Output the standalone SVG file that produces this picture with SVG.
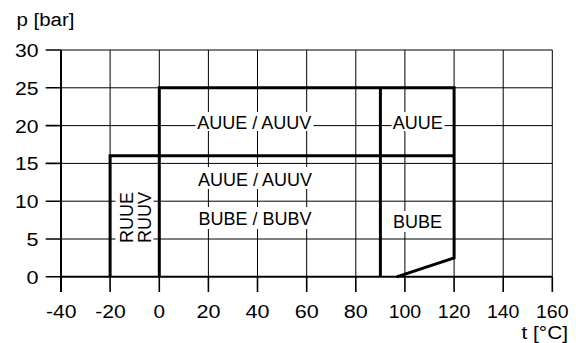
<svg xmlns="http://www.w3.org/2000/svg" width="576" height="343" viewBox="0 0 576 343">
<style>
text{font-family:"Liberation Sans",Arial,sans-serif;font-size:18px;fill:#000}
.g{stroke:#000;stroke-width:1;fill:none}
.ax{stroke:#000;stroke-width:2;fill:none}
.tk{stroke:#000;stroke-width:1.6;fill:none}
.th{stroke:#000;stroke-width:3;fill:none;stroke-linejoin:miter}
.bg{fill:#fff;stroke:none}
.ym{text-anchor:end}
.xm{text-anchor:middle}
</style>
<rect width="576" height="343" fill="#fff"/>
<g id="grid">
<path class="g" d="M110.1 50V276.8M159.3 50V276.8M208.4 50V276.8M257.5 50V276.8M306.7 50V276.8M355.8 50V276.8M404.9 50V276.8M454.1 50V276.8M503.2 50V276.8"/>
<path class="g" d="M61 50H552.3M61 87.8H552.3M61 125.6H552.3M61 163.4H552.3M61 201.2H552.3M61 239H552.3"/>
<path class="g" stroke-width="1.4" d="M552.3 50V276.8"/>
</g>
<g id="axes">
<path class="ax" d="M61 50V292"/>
<path class="ax" stroke-width="2.5" d="M61 276.8H552.3"/>
<path class="tk" d="M45.7 50H61M45.7 87.8H61M45.7 125.6H61M45.7 163.4H61M45.7 201.2H61M45.7 239H61M45.7 276.8H61"/>
<path class="tk" d="M110.1 276.8V292M159.3 276.8V292M208.4 276.8V292M257.5 276.8V292M306.7 276.8V292M355.8 276.8V292M404.9 276.8V292M454.1 276.8V292M503.2 276.8V292M552.3 276.8V292"/>
</g>
<g id="ylabels">
<text class="ym" x="38.5" y="57" textLength="23.5" lengthAdjust="spacingAndGlyphs">30</text>
<text class="ym" x="38.5" y="94.8" textLength="23.5" lengthAdjust="spacingAndGlyphs">25</text>
<text class="ym" x="38.5" y="132.6" textLength="23.5" lengthAdjust="spacingAndGlyphs">20</text>
<text class="ym" x="38.5" y="170.4" textLength="23.5" lengthAdjust="spacingAndGlyphs">15</text>
<text class="ym" x="38.5" y="208.2" textLength="23.5" lengthAdjust="spacingAndGlyphs">10</text>
<text class="ym" x="38.5" y="246" textLength="12" lengthAdjust="spacingAndGlyphs">5</text>
<text class="ym" x="38.5" y="283.8" textLength="12" lengthAdjust="spacingAndGlyphs">0</text>
</g>
<g id="xlabels">
<text class="xm" x="61.3" y="318" textLength="30.5" lengthAdjust="spacingAndGlyphs">-40</text>
<text class="xm" x="110.4" y="318" textLength="30.5" lengthAdjust="spacingAndGlyphs">-20</text>
<text class="xm" x="159.3" y="318" textLength="11.5" lengthAdjust="spacingAndGlyphs">0</text>
<text class="xm" x="208.4" y="318" textLength="24" lengthAdjust="spacingAndGlyphs">20</text>
<text class="xm" x="257.5" y="318" textLength="24" lengthAdjust="spacingAndGlyphs">40</text>
<text class="xm" x="306.7" y="318" textLength="24" lengthAdjust="spacingAndGlyphs">60</text>
<text class="xm" x="355.8" y="318" textLength="24" lengthAdjust="spacingAndGlyphs">80</text>
<text class="xm" x="404.9" y="318" textLength="32.5" lengthAdjust="spacingAndGlyphs">100</text>
<text class="xm" x="454.1" y="318" textLength="32.5" lengthAdjust="spacingAndGlyphs">120</text>
<text class="xm" x="503.2" y="318" textLength="32.5" lengthAdjust="spacingAndGlyphs">140</text>
<text class="xm" x="552.3" y="318" textLength="32.5" lengthAdjust="spacingAndGlyphs">160</text>
</g>
<g id="axis-titles">
<text x="16.5" y="26" textLength="58" lengthAdjust="spacingAndGlyphs">p [bar]</text>
<text class="ym" x="568" y="339" textLength="46.5" lengthAdjust="spacingAndGlyphs">t [°C]</text>
</g>
<g id="connectors">
<path class="th" d="M159.3 276.8V87.8H454.1V257.9L396.7 276.8"/>
<path class="th" d="M110.1 276.8V155.8H454.1"/>
<path class="th" d="M380.4 87.8V276.8"/>
</g>
<g id="label-auue-auuv-top">
<rect class="bg" x="195.5" y="112" width="118" height="19"/>
<text class="xm" x="254.2" y="129">AUUE / AUUV</text>
</g>
<g id="label-auue-right">
<rect class="bg" x="391.5" y="112" width="53" height="19"/>
<text class="xm" x="417.8" y="129">AUUE</text>
</g>
<g id="label-auue-auuv-low">
<rect class="bg" x="195" y="167" width="120" height="22"/>
<text class="xm" x="255" y="186.2">AUUE / AUUV</text>
</g>
<g id="label-bube-bubv">
<rect class="bg" x="195" y="207" width="120" height="22"/>
<text class="xm" x="255" y="224.6">BUBE / BUBV</text>
</g>
<g id="label-bube">
<rect class="bg" x="391.5" y="211" width="52" height="21"/>
<text class="xm" x="417.6" y="228">BUBE</text>
</g>
<g id="label-ruu">
<rect class="bg" x="115.5" y="189" width="38" height="57"/>
<text class="xm" transform="translate(132.7,217.5) rotate(-90)">RUUE</text>
<text class="xm" transform="translate(151.3,217.5) rotate(-90)">RUUV</text>
</g>
</svg>
